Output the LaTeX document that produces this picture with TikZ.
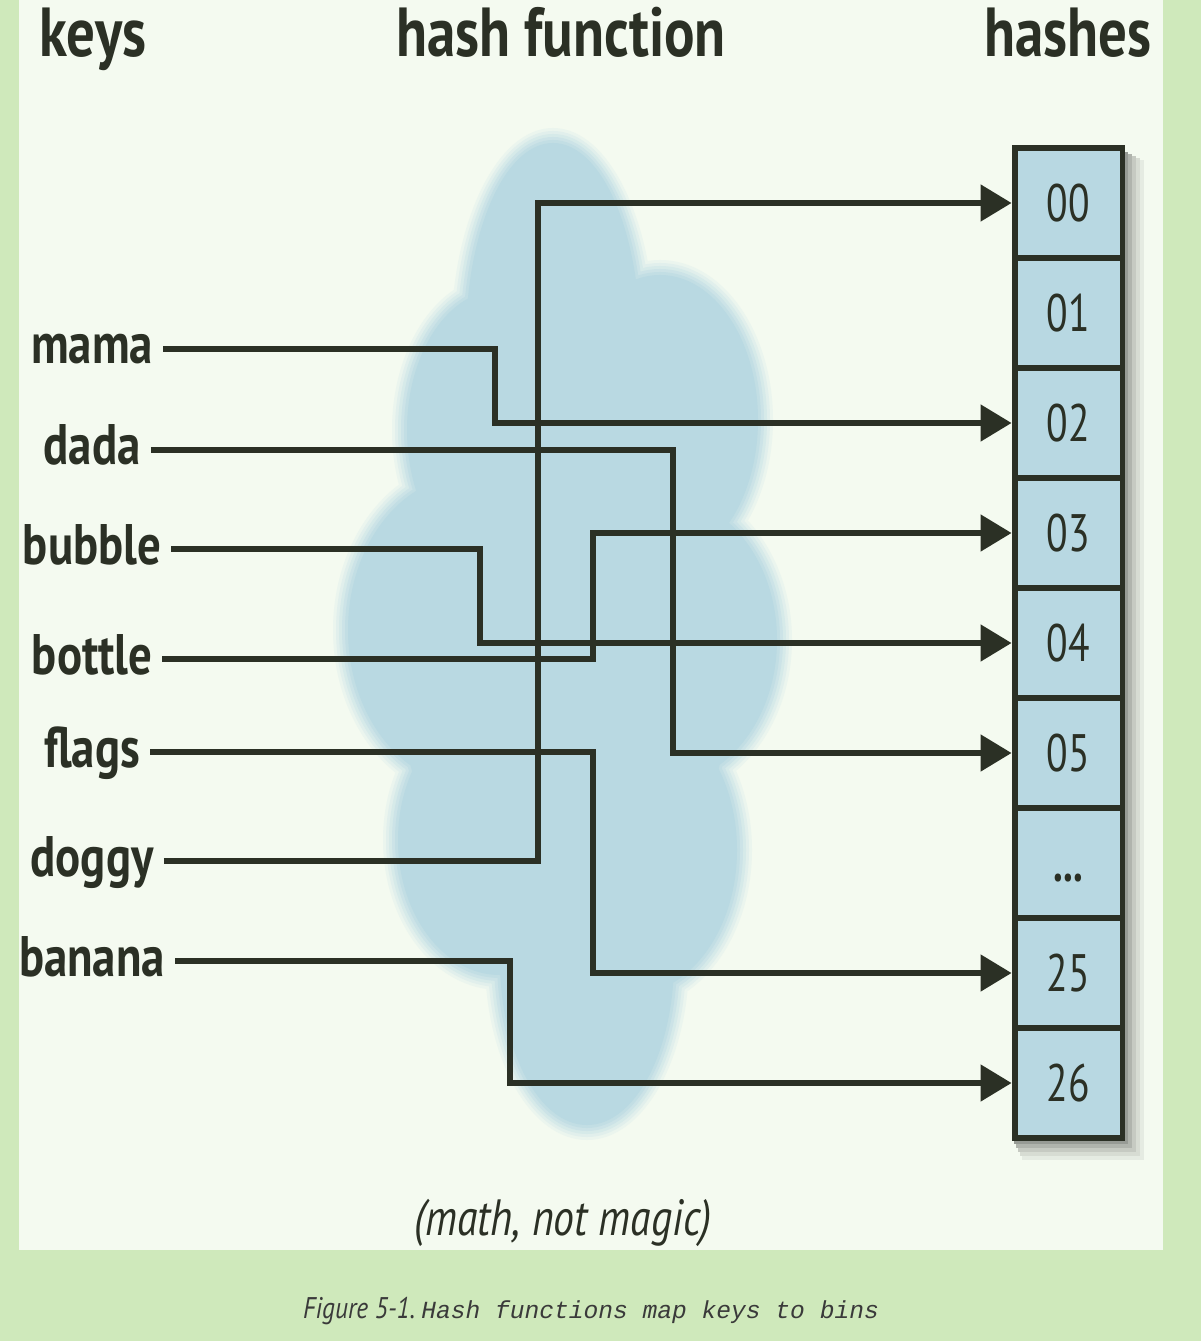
\documentclass[tikz,border=0pt]{standalone}
\usepackage{fontspec}
\setmainfont{PT Sans}
\newfontfamily\keyfont[FakeStretch=0.82]{PT Sans}
\newfontfamily\numfont[FakeStretch=0.75]{PT Sans}
\newfontfamily\figfont[FakeStretch=0.85]{PT Sans}
\newfontfamily\capmono{Liberation Mono}
\usetikzlibrary{arrows.meta, positioning, calc}

\definecolor{outergreen}{RGB}{207,233,187}
\definecolor{panelcolor}{RGB}{244,250,240}
\definecolor{cloudcolor}{RGB}{185,217,226}
\definecolor{binfill}{RGB}{184,216,226}
\definecolor{inkcolor}{RGB}{43,48,37}
\definecolor{captioncolor}{RGB}{58,58,58}

% soft cloud: union of ellipses, grown by #1
\newcommand{\cloudblob}[2]{%
  \fill[#2] \foreach \cx/\cy/\rx/\ry in {553/340/87/197, 500/430/93/140, 660/420/98/145,
      470/630/122/155, 660/640/117/145, 500/840/102/135, 630/850/107/145,
      587/960/87/165, 565/640/170/300}
    { (\cx,\cy) ellipse [x radius=\rx+#1, y radius=\ry+#1] };
}

\tikzset{
  hashtitle/.style={font=\keyfont\bfseries\fontsize{39.5}{40}\selectfont, text=inkcolor, anchor=base, inner sep=0pt},
  keyname/.style={font=\keyfont\bfseries\fontsize{32.5}{33}\selectfont, text=inkcolor,
    text height=0.8cm, text depth=0.2cm, inner xsep=0.2cm, inner ysep=0pt},
  bin/.style={draw=inkcolor, line width=3.4pt, fill=binfill, minimum width=2.16cm, minimum height=2.2cm,
    text height=0.74cm, text depth=0pt, font=\numfont\fontsize{30}{31}\selectfont, text=inkcolor},
  link/.style={draw=inkcolor, line width=2.9pt, -{Triangle[length=0.62cm, width=0.72cm]}}
}

\begin{document}
\begin{tikzpicture}[x=0.02cm, y=-0.02cm]
    \useasboundingbox (0,0) rectangle (1201,1341);
    % Backgrounds
    \fill[outergreen] (0,0) rectangle (1201,1341);
    \fill[panelcolor] (19,0) rectangle (1163,1250);

    % Cloud
    \foreach \g/\c in {15/15, 12/32, 9/50, 6/68, 3/85, 0/100} {
        \cloudblob{\g}{cloudcolor!\c!panelcolor}
    }

    % Titles
    \node[hashtitle] (t-keys) at (93,57) {keys};
    \node[hashtitle] (t-func) at (561,57) {hash function};
    \node[hashtitle] (t-hashes) at (1068,57) {hashes};

    % Keys
    \foreach \k/\y in {mama/349, dada/450, bubble/549, bottle/659, flags/752, doggy/861, banana/961}
        \node[keyname] (k-\k) at (92,\y) {\k};

    % Shadow of the bins
    \foreach \d/\s in {20/94, 16/88, 12/81, 8/72, 4/62}
        \fill[panelcolor!\s!black] ({1012+\d/2},{150+\d/2}) rectangle ({1124+\d},{1140+\d});

    % Bins
    \foreach \nm/\lab [count=\i from 0] in {00/00, 01/01, 02/02, 03/03, 04/04, 05/05, dots/{\bfseries ...}, 25/25, 26/26}
        \node[bin] (h\nm) at (1068.5,{203+110*\i}) {\lab};

    % Links
    \foreach \k/\x/\h in {mama/495/02, dada/673/05, bubble/480/04, bottle/593/03,
                          flags/593/25, doggy/538/00, banana/510/26} {
        \coordinate (bend) at (\x,0);
        \draw[link] (k-\k.east) -| (bend |- h\h.west) -- (h\h.west);
    }

    % Notes
    \node[font=\keyfont\itshape\fontsize{29}{30}\selectfont, text=inkcolor, anchor=base] (note) at (563,1235) {(math, not magic)};
    \node[text=captioncolor, anchor=base] (caption) at (591,1318)
        {{\figfont\fontsize{17}{18}\selectfont\itshape Figure 5-1.}\hspace{0.12cm}{\capmono\fontsize{14}{15}\selectfont\itshape Hash functions map keys to bins}};
\end{tikzpicture}
\end{document}
